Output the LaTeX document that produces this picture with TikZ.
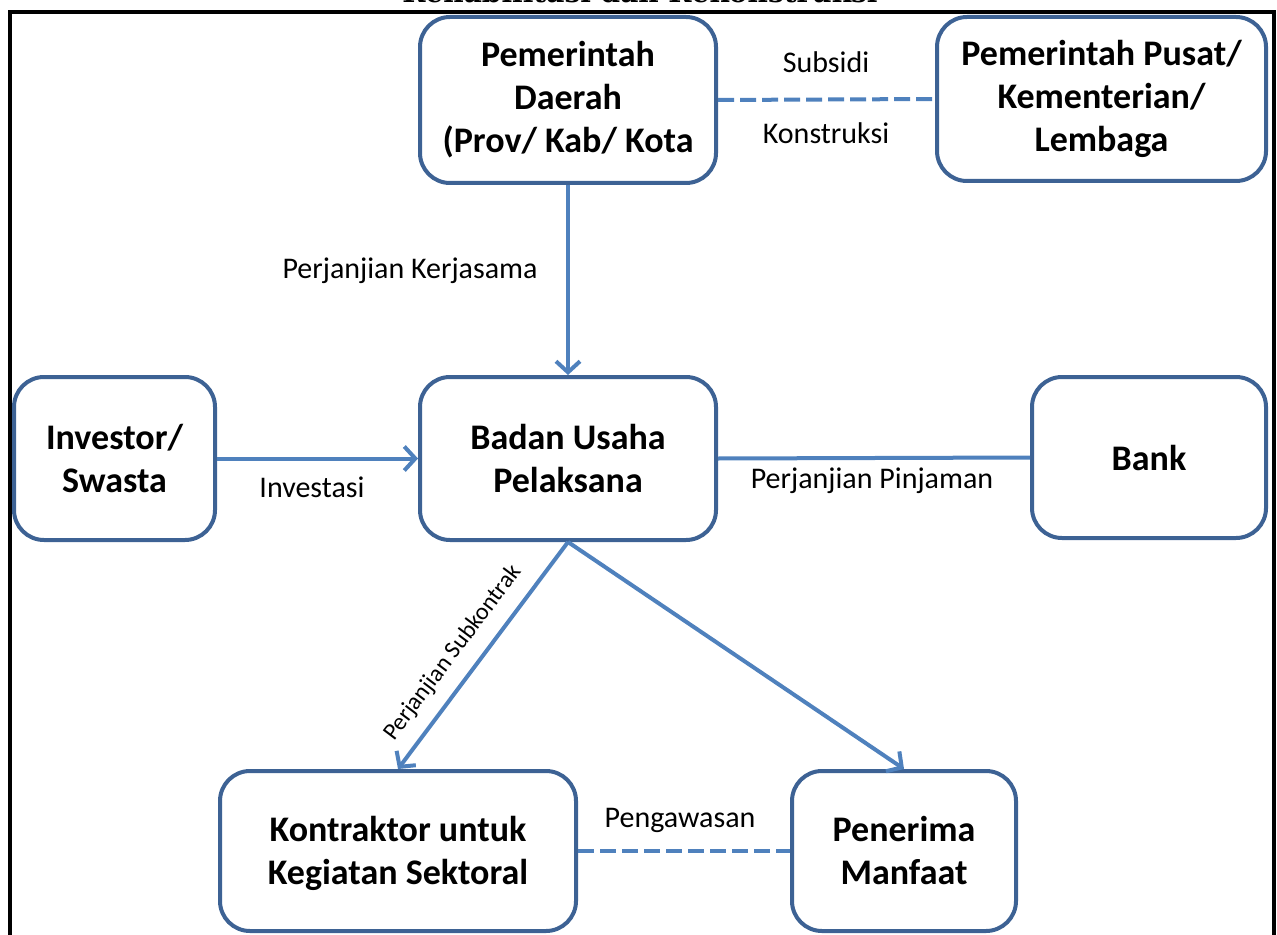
\documentclass[tikz,border=0pt]{standalone}
\usepackage{fontspec}
\setmainfont{Carlito}
\newfontfamily\titlefont{DejaVu Serif}
\usetikzlibrary{arrows.meta}
\definecolor{boxblue}{RGB}{61,98,148}
\definecolor{lineblue}{RGB}{79,129,189}
\begin{document}
\begin{tikzpicture}[x=0.5pt,y=-0.5pt,
  box/.style={draw=boxblue, line width=2pt, rounded corners=15pt, fill=white,
    align=center, inner sep=0pt,
    font=\fontsize{18}{21.5}\selectfont\bfseries},
  conn/.style={draw=lineblue, line width=2pt},
  arr/.style={conn, -{Straight Barb[length=5.5pt,width=12pt,line width=2pt]}},
  dashconn/.style={conn, dash pattern=on 8pt off 3pt},
  lbl/.style={font=\fontsize{15}{18}\selectfont, text=black, inner sep=0pt},
  frame/.style={draw=black, line width=2pt}
]
\useasboundingbox (0,0) rectangle (1277,935);
% title (cut off at the top)
\node[anchor=base, inner sep=0pt, font=\titlefont\bfseries\fontsize{14}{16}\selectfont] (title) at (640,3) {Rehabilitasi dan Rekonstruksi};
% frame
\coordinate (fbl) at (10,940);
\coordinate (ftl) at (10,12);
\coordinate (ftr) at (1274,12);
\coordinate (fbr) at (1274,940);
\draw[frame] (fbl) -- (ftl) -- (ftr) -- (fbr);
% boxes
\node[box, minimum width=148pt, minimum height=83pt] (pd) at (568,100) {Pemerintah\\Daerah\\(Prov/ Kab/ Kota};
\node[box, minimum width=164.5pt, minimum height=82pt] (pp) at (1101.5,99) {Pemerintah Pusat/\\Kementerian/\\Lembaga};
\node[box, minimum width=148pt, minimum height=81.5pt] (bu) at (568,458.5) {Badan Usaha\\Pelaksana};
\node[box, minimum width=100.5pt, minimum height=81.5pt] (inv) at (114.5,458.5) {Investor/\\Swasta};
\node[box, minimum width=117pt, minimum height=80.5pt] (bank) at (1149,457.5) {Bank};
\node[box, minimum width=178pt, minimum height=80pt, text depth=1pt] (kon) at (398,851) {Kontraktor untuk\\Kegiatan Sektoral};
\node[box, minimum width=112pt, minimum height=80pt, text depth=1pt] (pen) at (904,851) {Penerima\\Manfaat};
% connectors
\draw[dashconn] (pd.east) -- (pp.west);
\draw[arr] (pd.south) -- (bu.north);
\draw[arr] (inv.east) -- (bu.west);
\draw[conn] (bu.east) -- (bank.west);
\draw[arr] (bu.south) -- (kon.north);
\draw[arr] (bu.south) -- (pen.north);
\draw[dashconn] (kon.east) -- (pen.west);
% labels
\node[lbl] (l1) at (826,62) {Subsidi};
\node[lbl] (l2) at (826,133) {Konstruksi};
\node[lbl] (l3) at (410,271) {Perjanjian Kerjasama};
\node[lbl] (l4) at (312,487) {Investasi};
\node[lbl] (l5) at (872,481) {Perjanjian Pinjaman};
\node[lbl] (l6) at (680,820) {Pengawasan};
\node[lbl, rotate=53, font=\fontsize{12}{14}\selectfont] (l7) at (453,653) {Perjanjian Subkontrak};
\end{tikzpicture}
\end{document}
